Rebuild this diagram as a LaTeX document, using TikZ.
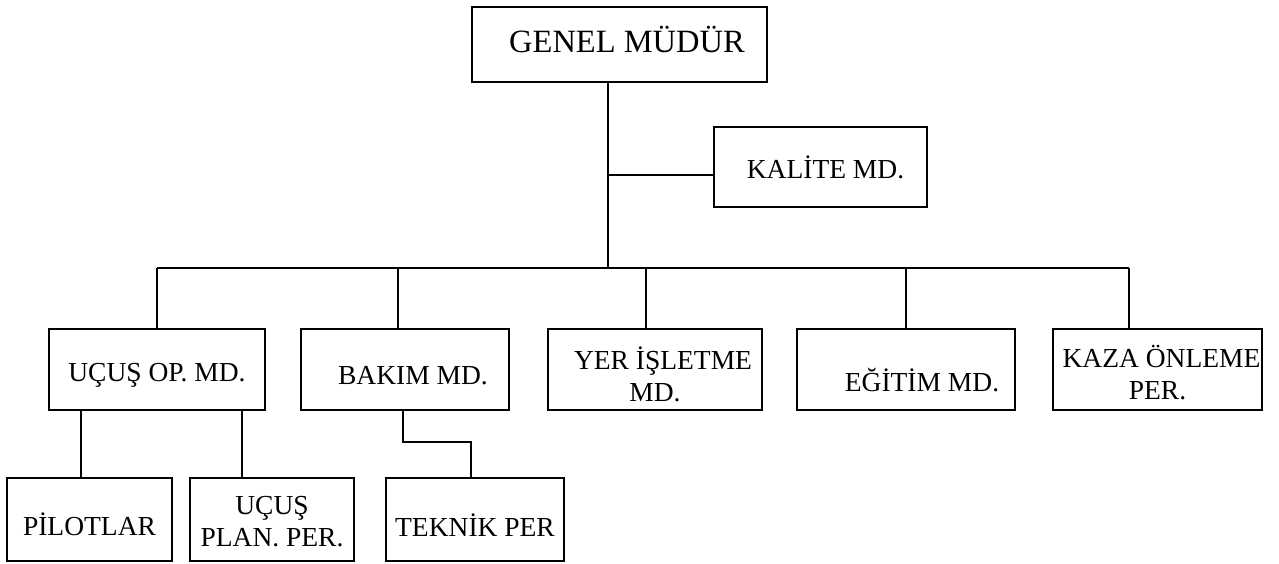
\documentclass[tikz,border=0pt]{standalone}
\usepackage{fontspec}
\setmainfont{Liberation Serif}
% shift a label vertically without changing the size of its box
\newcommand{\nudge}[2]{\raisebox{#1}[\height][\depth]{#2}}
\newcommand{\twolines}[2]{\begin{tabular}{@{}c@{}}#1\\#2\end{tabular}}
\begin{document}
\begin{tikzpicture}[x=1pt,y=-1pt,
  unit/.style={draw=black,line width=2.4pt,inner sep=0pt,align=center,
    font=\fontsize{27.5}{32}\selectfont},
  link/.style={draw=black,line width=2.4pt}]
\useasboundingbox (0,0) rectangle (1279,563);

% top level
\node[unit,minimum width=295pt,minimum height=75pt,font=\fontsize{32.5}{36}\selectfont]
  (genel) at (619.5,44.5) {\hspace*{15pt}\nudge{5pt}{GENEL MÜDÜR}};
\node[unit,minimum width=213pt,minimum height=80pt] (kalite) at (820.5,167) {\hspace*{10pt}KALİTE MD.};

% departments
\node[unit,minimum width=216pt,minimum height=81pt] (ucusop) at (157,369.5) {\nudge{-6pt}{UÇUŞ OP. MD.}};
\node[unit,minimum width=208pt,minimum height=81pt] (bakim)  at (405,369.5) {\hspace*{16pt}\nudge{-6pt}{BAKIM MD.}};
\node[unit,minimum width=214pt,minimum height=81pt] (yer)    at (655,369.5)
  {\nudge{-9pt}{\twolines{\hspace*{16pt}YER İŞLETME}{MD.}}};
\node[unit,minimum width=218pt,minimum height=81pt] (egitim) at (906,369.5) {\hspace*{32pt}\nudge{-11pt}{EĞİTİM MD.}};
\node[unit,minimum width=209pt,minimum height=81pt] (kaza)   at (1157.5,369.5)
  {\nudge{-8pt}{\twolines{\hspace*{8pt}KAZA ÖNLEME}{PER.}}};

% staff
\node[unit,minimum width=165pt,minimum height=83pt] (pilot)  at (89.5,519.5) {\nudge{-5pt}{PİLOTLAR}};
\node[unit,minimum width=164pt,minimum height=83pt] (plan)   at (272,519.5)
  {\nudge{-5pt}{\twolines{UÇUŞ}{PLAN. PER.}}};
\node[unit,minimum width=178pt,minimum height=83pt] (teknik) at (475,519.5) {\nudge{-6pt}{TEKNİK PER}};

% trunk and bus
\coordinate (trunk) at (608,268);
\coordinate (kjoin) at (608,175);
\coordinate (busL) at (157,268);
\coordinate (busR) at (1129,268);
\draw[link] (genel.south -| trunk) -- (trunk);
\draw[link] (kjoin) -- (kjoin -| kalite.west);
\draw[link] (busL) -- (busR);

% drops to departments
\coordinate (dU) at (157,268);
\coordinate (dB) at (398,268);
\coordinate (dY) at (646,268);
\coordinate (dE) at (906,268);
\coordinate (dK) at (1129,268);
\draw[link] (dU) -- (dU |- ucusop.north);
\draw[link] (dB) -- (dB |- bakim.north);
\draw[link] (dY) -- (dY |- yer.north);
\draw[link] (dE) -- (dE |- egitim.north);
\draw[link] (dK) -- (dK |- kaza.north);

% flight operations staff
\coordinate (sP) at (81,410);
\coordinate (sQ) at (242,410);
\draw[link] (sP) -- (sP |- pilot.north);
\draw[link] (sQ) -- (sQ |- plan.north);

% maintenance staff
\coordinate (sB) at (403,410);
\coordinate (sT) at (471,442);
\draw[link] (sB) |- (sT) -- (sT |- teknik.north);
\end{tikzpicture}
\end{document}
